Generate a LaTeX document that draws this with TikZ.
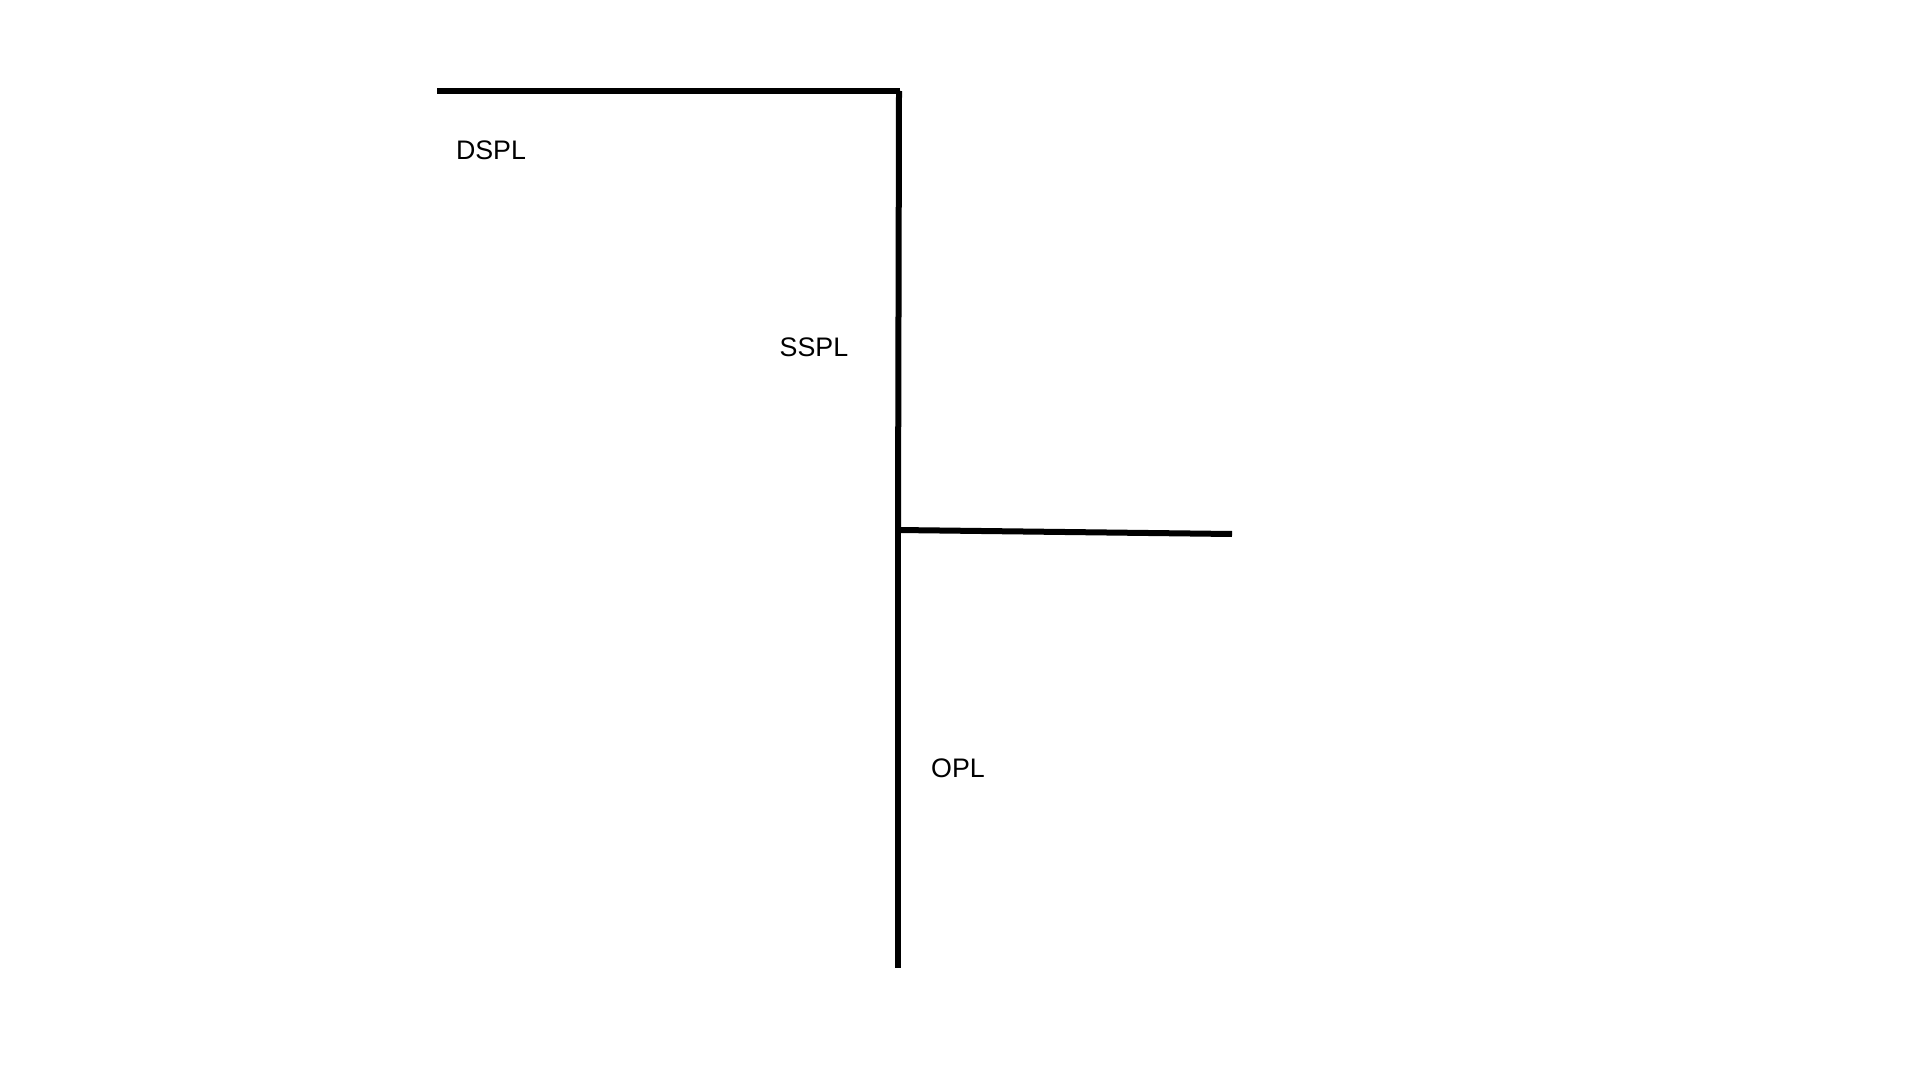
\documentclass[tikz,border=0pt]{standalone}
\usepackage{fontspec}
\setmainfont{Liberation Sans}
\usepackage{xcolor}
\usepackage{tikz}

\begin{document}
\begin{tikzpicture}[x=0.5pt, y=-0.5pt, line width=3pt]
      \useasboundingbox (0,0) rectangle (1920,1080);
      \coordinate (DL) at (437,91);
      \coordinate (DR) at (900,91);
      \coordinate (ST) at (899,91);
      \coordinate (J)  at (898,530);
      \coordinate (JR) at (1232,534);
      \coordinate (OB) at (898,968);
      \draw (DL) -- (DR);
      \draw (ST) -- (J);
      \draw (J) -- (JR);
      \draw (J) -- (OB);
      \node[font=\fontsize{13.4}{16}\selectfont] (dspl) at (491,150) {DSPL};
      \node[font=\fontsize{13.4}{16}\selectfont] (sspl) at (814,347) {SSPL};
      \node[font=\fontsize{13.4}{16}\selectfont] (opl) at (958,768) {OPL};
    \end{tikzpicture}
\end{document}
